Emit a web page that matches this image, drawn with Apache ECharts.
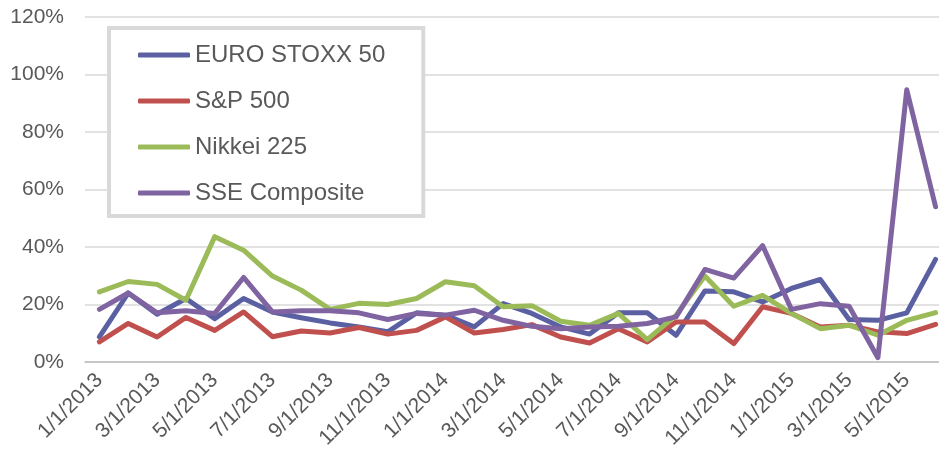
<!DOCTYPE html>
<html>
<head>
<meta charset="utf-8">
<script src="https://cdn.jsdelivr.net/npm/echarts@6/dist/echarts.min.js"></script>
<style>
  html, body { margin: 0; padding: 0; background: #fff; }
  #chart { width: 939px; height: 452px; }
</style>
</head>
<body>
<div id="chart"></div>
<script>
// monthly, 1/1/2013 .. 6/1/2015
var months = [
  '1/1/2013', '2/1/2013', '3/1/2013', '4/1/2013', '5/1/2013', '6/1/2013',
  '7/1/2013', '8/1/2013', '9/1/2013', '10/1/2013', '11/1/2013', '12/1/2013',
  '1/1/2014', '2/1/2014', '3/1/2014', '4/1/2014', '5/1/2014', '6/1/2014',
  '7/1/2014', '8/1/2014', '9/1/2014', '10/1/2014', '11/1/2014', '12/1/2014',
  '1/1/2015', '2/1/2015', '3/1/2015', '4/1/2015', '5/1/2015', '6/1/2015'
]

var euroStoxx = [8.7, 24.0, 16.6, 22.1, 15.1, 22.1, 17.4, 15.4, 13.6, 12.2, 10.5, 17.1,
  16.3, 12.2, 20.3, 16.9, 12.2, 9.7, 17.1, 17.1, 9.3, 24.7, 24.4, 20.9,
  25.6, 28.7, 14.8, 14.5, 17.1, 35.7]
var sp500 = [7.0, 13.4, 8.7, 15.5, 11.0, 17.4, 8.8, 10.8, 10.1, 12.0, 9.7, 11.0,
  15.7, 10.1, 11.3, 13.0, 8.7, 6.6, 11.6, 7.0, 13.9, 13.9, 6.4, 19.2,
  16.9, 12.2, 12.8, 10.5, 9.9, 13.1]
var nikkei = [24.4, 28.0, 27.0, 21.5, 43.6, 38.9, 29.9, 25.0, 18.3, 20.4, 20.0, 22.1,
  27.9, 26.5, 19.2, 19.6, 14.2, 12.8, 16.9, 7.8, 16.3, 29.9, 19.4, 23.2,
  16.9, 11.6, 12.8, 9.3, 14.5, 17.2]
var sse = [18.3, 24.0, 17.1, 17.8, 16.9, 29.4, 17.4, 17.8, 17.8, 17.1, 14.8, 16.9,
  16.3, 18.0, 14.5, 12.4, 11.6, 12.2, 12.4, 13.4, 15.7, 32.2, 29.2, 40.5,
  18.3, 20.3, 19.4, 1.5, 94.7, 54.0]

var yTicks = [0, 20, 40, 60, 80, 100, 120]

var seriesList = [
  { name: 'EURO STOXX 50', data: euroStoxx, color: '#5B60A3' },
  { name: 'S&P 500', data: sp500, color: '#C0504D' },
  { name: 'Nikkei 225', data: nikkei, color: '#9BBB59' },
  { name: 'SSE Composite', data: sse, color: '#8064A2' }
]

var textGrey = '#595959'
var font = '"Liberation Sans", Arial, sans-serif'

var chart = echarts.init(document.getElementById('chart'))

var option = {
  animation: false,
  backgroundColor: '#fff',
  color: seriesList.map(function (s) { return s.color }),
  grid: {
    left: 85,
    right: -11,
    top: 17,
    bottom: 90,
    containLabel: false,
    outerBoundsMode: 'none'
  },
  legend: {
    orient: 'vertical',
    left: 109,
    top: 28,
    icon: 'roundRect',
    itemWidth: 52,
    itemHeight: 5,
    itemGap: 16,
    padding: [12, 38, 8, 29],
    backgroundColor: '#fff',
    borderColor: '#d9d9d9',
    borderWidth: 4,
    textStyle: {
      fontFamily: font,
      fontSize: 24,
      lineHeight: 30,
      color: textGrey
    },
    data: seriesList.map(function (s) { return s.name })
  },
  xAxis: {
    type: 'category',
    boundaryGap: true,
    data: months,
    axisLine: { lineStyle: { color: '#bfbfbf', width: 1.5 } },
    axisTick: { interval: 1, length: 6, lineStyle: { color: '#bfbfbf', width: 1.5 } },
    axisLabel: {
      interval: 1,
      rotate: 45,
      margin: 15,
      fontFamily: font,
      fontSize: 21,
      color: textGrey
    }
  },
  yAxis: {
    type: 'value',
    min: yTicks[0],
    max: yTicks[yTicks.length - 1],
    interval: 20,
    axisLine: { show: false },
    axisTick: { show: false },
    splitLine: { lineStyle: { color: '#d9d9d9', width: 1.5 } },
    axisLabel: {
      margin: 21,
      fontFamily: font,
      fontSize: 21,
      color: textGrey,
      formatter: '{value}%'
    }
  },
  series: seriesList.map(function (s) {
    return {
      name: s.name,
      type: 'line',
      data: s.data,
      symbol: 'none',
      smooth: false,
      lineStyle: { width: 5, color: s.color, cap: 'round', join: 'round' },
      itemStyle: { color: s.color }
    }
  })
}

chart.setOption(option)
</script>
</body>
</html>
